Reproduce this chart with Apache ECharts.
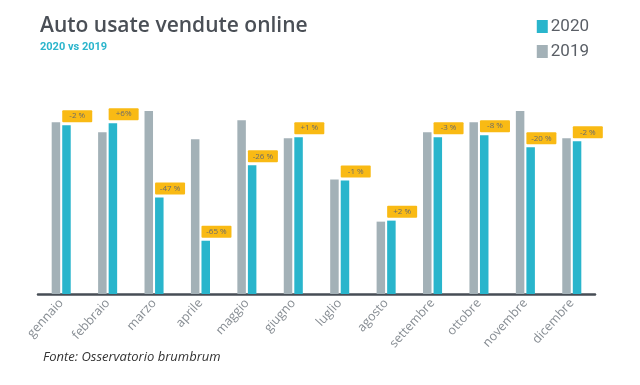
<!DOCTYPE html>
<html>
<head>
<meta charset="utf-8">
<script src="https://cdn.jsdelivr.net/npm/echarts@6/dist/echarts.min.js"></script>
<style>
html,body{margin:0;padding:0;background:#fff;}
#chart{width:640px;height:385px;}
</style>
</head>
<body>
<div id="chart"></div>
<script>
const months = ['gennaio','febbraio','marzo','aprile','maggio','giugno','luglio','agosto','settembre','ottobre','novembre','dicembre'];
const values2019 = [171, 161, 182, 154, 173, 155, 114, 72, 161, 171, 182, 155];
const values2020 = [168, 170, 96, 53, 128, 156, 113, 73, 156, 158, 146, 152];
const changeLabels = ['-2 %','+6%','-47 %','-65 %','-26 %','+1 %','-1 %','+2 %','-3 %','-8 %','-20 %','-2 %'];

const chart = echarts.init(document.getElementById('chart'));
chart.setOption({
  backgroundColor: '#ffffff',
  animation: false,
  title: {
    text: 'Auto usate vendute online',
    subtext: '2020 vs 2019',
    left: 35, top: 11,
    itemGap: 5,
    textStyle: { fontFamily: 'Open Sans', fontWeight: 600, fontSize: 21, color: '#4a4f56' },
    subtextStyle: { fontFamily: 'Roboto', fontWeight: 'bold', fontSize: 11, color: '#2bb5cc' }
  },
  legend: {
    orient: 'vertical',
    right: 46, top: 13,
    itemWidth: 11, itemHeight: 13, itemGap: 8,
    icon: 'rect',
    data: ['2020', '2019'],
    textStyle: { fontFamily: 'Roboto', fontSize: 17, color: '#5a5f66', padding: [0,0,0,-2] }
  },
  grid: { left: 38, width: 557, top: 95, bottom: 91 },
  xAxis: {
    type: 'category',
    data: months,
    axisLine: { lineStyle: { color: '#474d55', width: 2.5 } },
    axisTick: { show: false },
    axisLabel: { rotate: 48, fontFamily: 'Open Sans', fontSize: 12.5, color: '#878d93', margin: 7, interval: 0 }
  },
  yAxis: {
    type: 'value', min: 0, max: 198, show: false, splitLine: { show: false }
  },
  series: [
    {
      name: '2019', type: 'bar', data: values2019,
      barWidth: 8.5, barGap: '24%',
      itemStyle: { color: '#a3b1b7' }
    },
    {
      name: '2020', type: 'bar', data: values2020,
      barWidth: 8.5,
      itemStyle: { color: '#29b5cc' },
      label: {
        show: true, position: 'top', distance: 3,
        formatter: p => changeLabels[p.dataIndex],
        backgroundColor: '#f9ba14',
        width: 30, height: 12, lineHeight: 12, align: 'center',
        offset: [10.75, 0],
        fontFamily: 'Open Sans', fontSize: 8, color: '#6b6b6b', borderRadius: 1
      }
    }
  ],
  graphic: [{
    type: 'text', left: 43, top: 351,
    style: { text: 'Fonte: Osservatorio brumbrum', fontFamily: 'Open Sans', fontStyle: 'italic', fontSize: 13, fill: '#333' }
  }]
});
</script>
</body>
</html>
